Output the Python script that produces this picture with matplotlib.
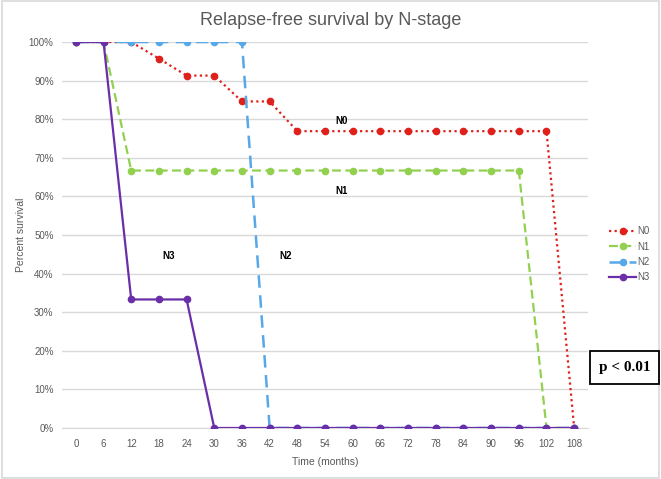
import matplotlib
matplotlib.use("Agg")
import matplotlib.pyplot as plt
from matplotlib.ticker import PercentFormatter

months = [0, 6, 12, 18, 24, 30, 36, 42, 48, 54, 60, 66, 72, 78, 84, 90, 96, 102, 108]
n0 = [100, 100, 100, 95.7, 91.3, 91.3, 84.6, 84.6, 76.9, 76.9, 76.9, 76.9, 76.9, 76.9, 76.9, 76.9, 76.9, 76.9, 0]
n1 = [100, 100, 66.7, 66.7, 66.7, 66.7, 66.7, 66.7, 66.7, 66.7, 66.7, 66.7, 66.7, 66.7, 66.7, 66.7, 66.7, 0, 0]
n2 = [100, 100, 100, 100, 100, 100, 100, 0, 0, 0, 0, 0, 0, 0, 0, 0, 0, 0, 0]
n3 = [100, 100, 33.3, 33.3, 33.3, 0, 0, 0, 0, 0, 0, 0, 0, 0, 0, 0, 0, 0, 0]

plt.rcParams['font.family'] = ['Liberation Sans', 'DejaVu Sans']

fig = plt.figure(figsize=(6.61, 4.79), dpi=100)
fig.patches.append(plt.Rectangle((0.003, 0.003), 0.994, 0.994, transform=fig.transFigure,
                                 fill=False, edgecolor='#d9d9d9', linewidth=1.2))
ax = fig.add_axes([0.0938, 0.1065, 0.7958, 0.8058])

ax.plot(months, n0, color='#e0201b', linestyle=(0, (1, 1.5)), linewidth=1.6, marker='o', markersize=4.5, label='N0', zorder=3)
ax.plot(months, n1, color='#92d050', linestyle=(0, (4, 2)), linewidth=1.6, marker='o', markersize=4.5, label='N1', zorder=4)
ax.plot(months, n2, color='#56a8e8', linestyle=(0, (5, 3)), linewidth=1.8, marker='o', markersize=4.5, label='N2', zorder=5)
ax.plot(months, n3, color='#6a2fa8', linestyle='-', linewidth=1.6, marker='o', markersize=4.5, label='N3', zorder=6)

ax.set_xlim(-3, 111)
ax.set_ylim(0, 100)
ax.set_xticks(months)
ax.set_yticks(range(0, 101, 10))
ax.yaxis.set_major_formatter(PercentFormatter(decimals=0))
ax.tick_params(axis='x', length=0, labelsize=7, colors='#595959', pad=8)
ax.tick_params(axis='y', length=0, labelsize=7, colors='#595959', pad=6)
ax.grid(axis='y', color='#d9d9d9', linewidth=1)
ax.set_axisbelow(True)
for s in ['top', 'right', 'left']:
    ax.spines[s].set_visible(False)
ax.spines['bottom'].set_color('#d9d9d9')
ax.spines['bottom'].set_zorder(1)

ax.set_xlabel('Time (months)', fontsize=7.5, color='#595959', labelpad=6)
ax.set_ylabel('Percent survival', fontsize=7.5, color='#595959', labelpad=2)
fig.text(0.5, 0.958, 'Relapse-free survival by N-stage', ha='center', va='center', fontsize=13, color='#595959')

ax.text(57.5, 79.5, 'N0', fontsize=7, fontweight='bold', ha='center', va='center')
ax.text(57.5, 61.5, 'N1', fontsize=7, fontweight='bold', ha='center', va='center')
ax.text(20, 44.5, 'N3', fontsize=7, fontweight='bold', ha='center', va='center')
ax.text(45.5, 44.5, 'N2', fontsize=7, fontweight='bold', ha='center', va='center')

leg = ax.legend(loc='center left', bbox_to_anchor=(1.0, 0.45), frameon=False, fontsize=7,
                handlelength=2.8, handletextpad=0.15, labelspacing=0.55, borderaxespad=1.75)
for t in leg.get_texts():
    t.set_color('#595959')

fig.patches.append(plt.Rectangle((0.8926, 0.1983), 0.1044, 0.0689, transform=fig.transFigure,
                                 facecolor='white', edgecolor='black', linewidth=1.3, zorder=10))
fig.text(0.9448, 0.232, 'p < 0.01', ha='center', va='center', fontsize=11, fontweight='bold',
         family=['Liberation Serif', 'DejaVu Serif'], zorder=11)

fig.savefig('out.png', dpi=100)
